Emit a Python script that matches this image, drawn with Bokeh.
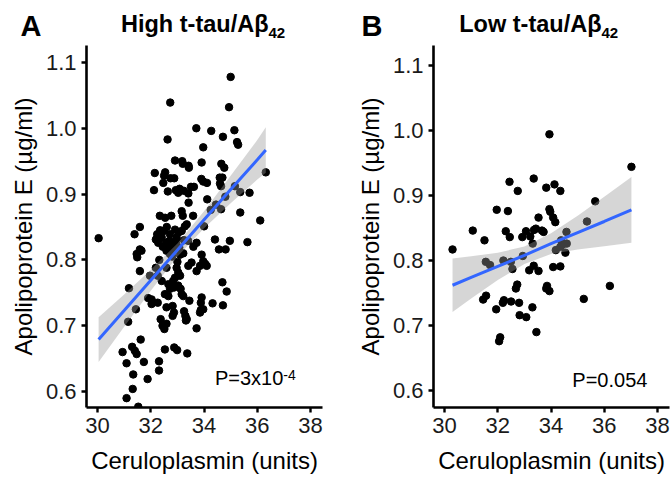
from bokeh.plotting import figure
from bokeh.layouts import row, column
from bokeh.models import Label, FixedTicker, PrintfTickFormatter, Range1d
from bokeh.embed import file_html
from bokeh.resources import INLINE

# ---------------- data: panel A (High t-tau/Abeta42) ----------------
a_cp = [35.00, 32.73, 34.94, 33.71, 34.27, 34.71, 35.14, 35.24, 35.28, 32.63,
        33.97, 32.91, 33.18, 33.20, 33.42, 33.43, 33.91, 34.65, 34.76, 32.15,
        32.54, 32.50, 32.74, 32.88, 32.47, 32.12, 32.64, 32.94, 33.08, 33.03,
        33.24, 33.41, 33.51, 33.62, 33.90, 33.97, 34.11, 34.59, 34.69, 34.60,
        34.64, 35.16, 35.36, 35.71, 36.32, 33.42, 34.12, 34.80, 34.45, 34.25,
        34.64, 33.16, 32.34, 32.54, 32.77, 33.20, 33.59, 35.36, 36.11,
        30.04, 31.39, 31.59, 32.24, 32.19, 32.28, 32.41, 32.49, 32.57, 32.63,
        32.72, 32.82, 32.91, 32.97, 33.07, 33.16, 33.28, 33.35, 32.87, 32.72,
        32.59, 34.00, 34.41, 34.56, 34.81, 34.97, 35.63, 33.60, 33.72, 31.47,
        31.59, 31.49, 31.65, 32.32, 32.19, 33.10, 33.22, 33.91, 33.97, 34.04,
        34.10, 33.85, 33.72, 33.41, 33.53, 32.97, 33.03, 32.91, 32.84, 32.78,
        32.72, 32.87, 32.66, 33.03, 33.10, 31.59, 31.97, 32.26, 32.59, 32.41,
        31.18, 32.53, 32.66, 33.12, 33.16, 33.22, 31.90, 32.03, 32.26, 32.03,
        32.82, 32.87, 32.82, 32.59, 33.45, 33.91, 33.88, 34.32, 34.71, 34.69,
        34.85, 31.44, 31.15, 32.37, 32.44, 32.51, 32.59, 33.25, 33.30, 33.35,
        33.32, 33.88, 33.97, 33.85, 33.72, 30.94, 31.09, 31.30, 31.40, 31.47,
        31.62, 31.74, 31.34, 31.88, 32.31, 32.31, 32.53, 32.88, 32.99, 33.37,
        31.32, 31.09, 31.53,
        32.35, 32.60, 32.70, 32.95, 33.05, 32.45, 33.25, 32.80, 33.00, 33.40]
a_apoe = [1.078, 1.039, 1.032, 1.000, 0.996, 0.987, 0.997, 0.979, 0.975, 0.983,
          0.971, 0.951, 0.950, 0.946, 0.943, 0.940, 0.948, 0.946, 0.940, 0.932,
          0.933, 0.928, 0.924, 0.924, 0.917, 0.906, 0.904, 0.906, 0.908, 0.902,
          0.905, 0.901, 0.911, 0.911, 0.923, 0.919, 0.917, 0.925, 0.925, 0.916,
          0.912, 0.912, 0.903, 0.902, 0.933, 0.887, 0.892, 0.896, 0.884, 0.876,
          0.877, 0.874, 0.867, 0.864, 0.867, 0.867, 0.867, 0.872, 0.860,
          0.833, 0.839, 0.850, 0.839, 0.831, 0.826, 0.834, 0.844, 0.826, 0.819,
          0.839, 0.824, 0.846, 0.834, 0.819, 0.844, 0.851, 0.854, 0.816, 0.809,
          0.814, 0.851, 0.831, 0.816, 0.816, 0.829, 0.827, 0.820, 0.826, 0.809,
          0.816, 0.804, 0.814, 0.800, 0.788, 0.808, 0.810, 0.808, 0.798, 0.794,
          0.791, 0.791, 0.783, 0.791, 0.796, 0.788, 0.781, 0.773, 0.768, 0.761,
          0.756, 0.758, 0.763, 0.761, 0.776, 0.783, 0.776, 0.776, 0.788, 0.768,
          0.757, 0.748, 0.745, 0.756, 0.748, 0.745, 0.742, 0.740, 0.735, 0.733,
          0.730, 0.720, 0.715, 0.728, 0.738, 0.743, 0.735, 0.734, 0.731, 0.766,
          0.752, 0.725, 0.706, 0.710, 0.700, 0.695, 0.703, 0.722, 0.715, 0.710,
          0.708, 0.724, 0.725, 0.720, 0.696, 0.660, 0.643, 0.668, 0.662, 0.657,
          0.679, 0.645, 0.626, 0.619, 0.646, 0.632, 0.664, 0.667, 0.663, 0.658,
          0.604, 0.590, 0.577,
          0.845, 0.850, 0.829, 0.828, 0.842, 0.820, 0.830, 0.805, 0.797, 0.829]

# fitted line and 95% band, panel A
a_fit_x = [30.04, 31.0, 32.0, 33.0, 34.0, 35.0, 36.0, 36.32]
a_fit_y = [0.679, 0.723, 0.769, 0.815, 0.861, 0.907, 0.952, 0.967]
a_lo = [0.645, 0.6985, 0.753, 0.805, 0.848, 0.886, 0.922, 0.9325]
a_hi = [0.713, 0.7475, 0.785, 0.825, 0.874, 0.928, 0.982, 1.0015]

# ---------------- data: panel B (Low t-tau/Abeta42) ----------------
b_cp = [30.30, 31.06, 31.50, 31.55, 31.71, 31.45, 31.56, 31.96, 32.38, 32.30,
        32.45, 32.21, 32.49, 32.55, 32.44, 32.75, 32.92, 32.94, 33.06, 33.22,
        33.31, 33.36, 33.43, 33.35, 33.53, 33.18, 33.35, 33.53, 33.66, 33.72,
        33.82, 34.13, 34.35, 33.94, 33.97, 34.08, 34.16, 33.85, 33.82, 33.94,
        34.08, 34.35, 34.38, 34.58, 34.42, 34.35, 34.18, 34.54, 34.59, 32.73,
        32.68, 32.23, 32.19, 32.50, 32.80, 31.94, 33.30, 32.82, 33.07, 35.35,
        35.66, 35.23, 36.21, 37.02, 32.09, 32.05, 33.45, 33.94]
b_apoe = [0.817, 0.846, 0.831, 0.798, 0.793, 0.740, 0.746, 0.878, 0.876, 0.845,
          0.836, 0.800, 0.798, 0.787, 0.921, 0.907, 0.836, 0.807, 0.845, 0.837,
          0.826, 0.847, 0.849, 0.926, 0.866, 0.785, 0.792, 0.784, 0.846, 0.844,
          0.912, 0.917, 0.907, 0.879, 0.875, 0.866, 0.859, 0.761, 0.757, 0.753,
          0.790, 0.791, 0.831, 0.844, 0.824, 0.821, 0.816, 0.812, 0.826, 0.763,
          0.757, 0.739, 0.735, 0.737, 0.735, 0.725, 0.728, 0.716, 0.713, 0.860,
          0.891, 0.741, 0.761, 0.944, 0.682, 0.676, 0.690, 0.994]

b_fit_x = [30.30, 31.0, 32.0, 33.0, 34.0, 35.0, 36.0, 37.02]
b_fit_y = [0.762, 0.774, 0.791, 0.808, 0.826, 0.843, 0.860, 0.878]
b_lo = [0.721, 0.7415, 0.770, 0.7945, 0.810, 0.817, 0.822, 0.8275]
b_hi = [0.803, 0.8065, 0.812, 0.8215, 0.842, 0.869, 0.898, 0.9285]

x_ticks = [30, 32, 34, 36, 38]
y_ticks = [0.6, 0.7, 0.8, 0.9, 1.0, 1.1]

FONT = "Liberation Sans"
TITLE_H = 42
MAIN_H = 483 - TITLE_H


def make_panel(width, bl, br, bt, bb, yr, xs, ys, fx, fy, lo, hi, pval, sup=None):
    p = figure(width=width, height=MAIN_H, output_backend="svg", toolbar_location=None,
               x_range=Range1d(29.585, 38.45), y_range=Range1d(*yr),
               min_border_left=bl, min_border_right=br,
               min_border_top=bt, min_border_bottom=bb)
    p.outline_line_color = None
    p.xgrid.visible = False
    p.ygrid.visible = False
    p.background_fill_color = "white"
    p.border_fill_color = "white"

    p.scatter(xs, ys, size=7.5, color="black")
    p.varea(x=fx, y1=lo, y2=hi, fill_color="#999999", fill_alpha=0.4)
    p.line(fx, fy, line_color="#3366FF", line_width=3)

    for ax in (p.xaxis[0], p.yaxis[0]):
        ax.axis_line_width = 2.6
        ax.axis_line_color = "black"
        ax.major_tick_line_width = 2.4
        ax.major_tick_line_color = "black"
        ax.major_tick_out = 5
        ax.major_tick_in = 0
        ax.minor_tick_line_color = None
        ax.major_label_text_font = FONT
        ax.major_label_text_font_size = "22px"
        ax.major_label_text_color = "#1a1a1a"
        ax.major_label_standoff = 5
        ax.axis_label_text_font = FONT
        ax.axis_label_text_font_size = "24px"
        ax.axis_label_text_font_style = "normal"
        ax.axis_label_text_color = "black"

    p.xaxis.ticker = FixedTicker(ticks=x_ticks)
    p.yaxis.ticker = FixedTicker(ticks=y_ticks)
    p.yaxis.formatter = PrintfTickFormatter(format="%.1f")
    p.xaxis.axis_label = "Ceruloplasmin (units)"
    p.yaxis.axis_label = "Apolipoprotein E (\u00b5g/ml)"
    p.xaxis.axis_label_standoff = 11
    p.yaxis.axis_label_standoff = 6

    p.add_layout(Label(x=pval[1], y=pval[2], text=pval[0], text_font=FONT,
                       text_font_size="20px", text_align="right",
                       text_baseline="middle", text_color="black"))
    if sup is not None:
        p.add_layout(Label(x=pval[1], y=sup[1], text=sup[0], text_font=FONT,
                           text_font_size="14px", text_align="left",
                           text_baseline="middle", text_color="black"))
    return p


# ---- title strip (letters and panel titles) ----
t = figure(width=672, height=TITLE_H, output_backend="svg", toolbar_location=None,
           x_range=Range1d(0, 672), y_range=Range1d(0, TITLE_H),
           min_border=0, x_axis_type=None, y_axis_type=None)
t.outline_line_color = None
t.xgrid.visible = False
t.ygrid.visible = False
t.border_fill_color = "white"
t.background_fill_color = "white"


def add_title(letter, lx, title, tx):
    t.add_layout(Label(x=lx, y=17, text=letter, text_font=FONT,
                       text_font_size="29px", text_font_style="bold",
                       text_color="black", text_baseline="middle"))
    t.add_layout(Label(x=tx, y=18.5, text=title, text_font=FONT,
                       text_font_size="23.5px", text_font_style="bold",
                       text_align="right", text_baseline="middle",
                       text_color="black"))
    t.add_layout(Label(x=tx, y=10, text="42", text_font=FONT,
                       text_font_size="15px", text_font_style="bold",
                       text_align="left", text_baseline="middle",
                       text_color="black"))


add_title("A", 20, "High t-tau/A\u03b2", 268)
add_title("B", 361, "Low t-tau/A\u03b2", 601)

pA = make_panel(336, 86, 14, 3, 74, (0.5758, 1.1257), a_cp, a_apoe,
                a_fit_x, a_fit_y, a_lo, a_hi,
                ("P=3x10", 36.98, 0.6204), sup=("-4", 0.6246))
pB = make_panel(336, 97, 3, 0, 76, (0.5741, 1.1305), b_cp, b_apoe,
                b_fit_x, b_fit_y, b_lo, b_hi,
                ("P=0.054", 37.62, 0.6164))

layout = column(t, row(pA, pB))
open("out.html", "w").write(file_html(layout, INLINE))
